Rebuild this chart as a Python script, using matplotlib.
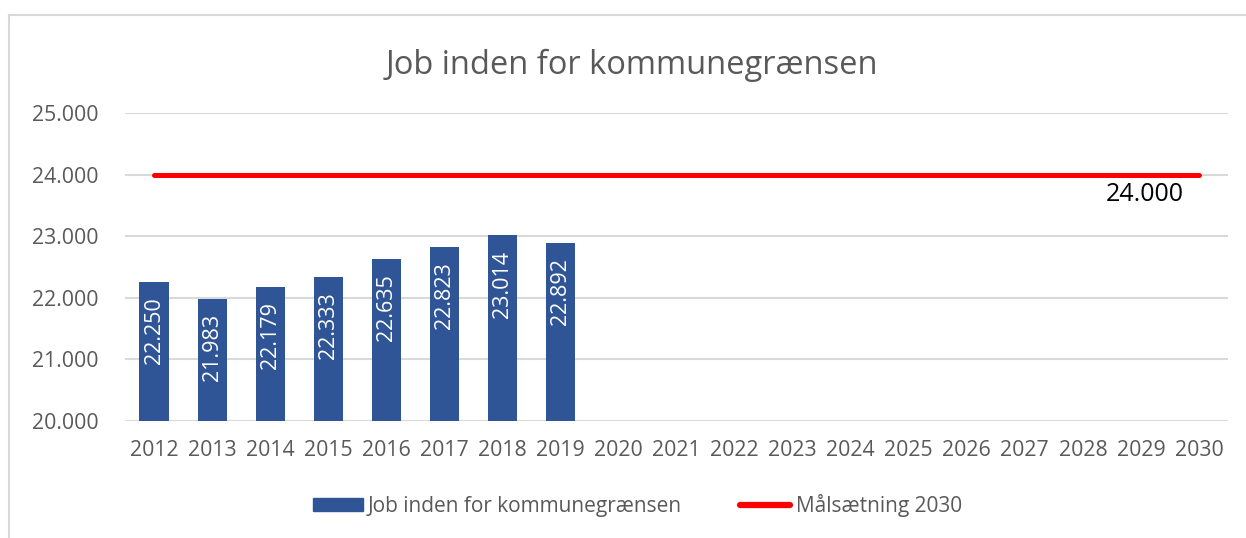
import matplotlib
matplotlib.use('Agg')
from matplotlib import pyplot as plt
from matplotlib.lines import Line2D

plt.rcParams['font.family'] = ['Open Sans', 'DejaVu Sans']

years = [str(y) for y in range(2012, 2031)]
jobs = [22250, 21983, 22179, 22333, 22635, 22823, 23014, 22892]
target = [24000] * len(years)
ytick_vals = [20000, 21000, 22000, 23000, 24000, 25000]
ytick_labels = ['20.000', '21.000', '22.000', '23.000', '24.000', '25.000']

def fmt(v):
    return '{:,}'.format(v).replace(',', '.')

fig = plt.figure(figsize=(12.46, 5.38), dpi=100)
fig.patch.set_facecolor('white')
ax = fig.add_axes([0.1003, 0.2175, 0.8853, 0.5725])

x = list(range(len(years)))
ax.bar(x[:len(jobs)], [v - 20000 for v in jobs], bottom=20000, width=0.5,
       color='#2F5597', zorder=3, label='Job inden for kommunegrænsen')
ax.plot(x, target, color='#FF0000', linewidth=3.6, solid_capstyle='round',
        zorder=4, label='Målsætning 2030')

for i, v in enumerate(jobs):
    ax.annotate(fmt(v), (i, v), xytext=(0, -11), textcoords='offset points',
                rotation=90, ha='center', va='top', color='white', fontsize=15.5)

ax.annotate(fmt(target[-1]), (x[-1], target[-1]), xytext=(-39, -5),
            textcoords='offset points', ha='center', va='top',
            color='black', fontsize=18)

ax.set_xlim(-0.5, len(years) - 0.5)
ax.set_ylim(20000, 25000)
ax.set_xticks(x)
ax.set_xticklabels(years)
ax.set_yticks(ytick_vals)
ax.set_yticklabels(ytick_labels)
ax.tick_params(axis='both', length=0, labelsize=15.3, colors='#595959')
ax.tick_params(axis='x', pad=14)
ax.tick_params(axis='y', pad=19)
ax.grid(axis='y', color='#d9d9d9', linewidth=1.5, zorder=0)
for s in ax.spines.values():
    s.set_visible(False)

fig.suptitle('Job inden for kommunegrænsen', x=0.507, y=0.91, fontsize=23.5,
             color='#595959')

handles = [plt.Rectangle((0, 0), 1, 1, color='#2F5597'),
           Line2D([0], [0], color='#FF0000', linewidth=4.5, solid_capstyle='round')]
leg = fig.legend(handles, ['Job inden for kommunegrænsen', 'Målsætning 2030'],
                 loc='center', bbox_to_anchor=(0.5115, 0.061), ncol=2,
                 frameon=False, fontsize=15, handlelength=2.4,
                 handleheight=0.6, handletextpad=0.25, columnspacing=2.8)
for t in leg.get_texts():
    t.set_color('#595959')

# light chart frame
fig.add_artist(Line2D([0.0072, 1.0], [0.973, 0.973], color='#d9d9d9',
                      linewidth=1.5, transform=fig.transFigure))
fig.add_artist(Line2D([0.0072, 0.0072], [0.0, 0.973], color='#d9d9d9',
                      linewidth=1.5, transform=fig.transFigure))

fig.savefig('out.png', dpi=100)
